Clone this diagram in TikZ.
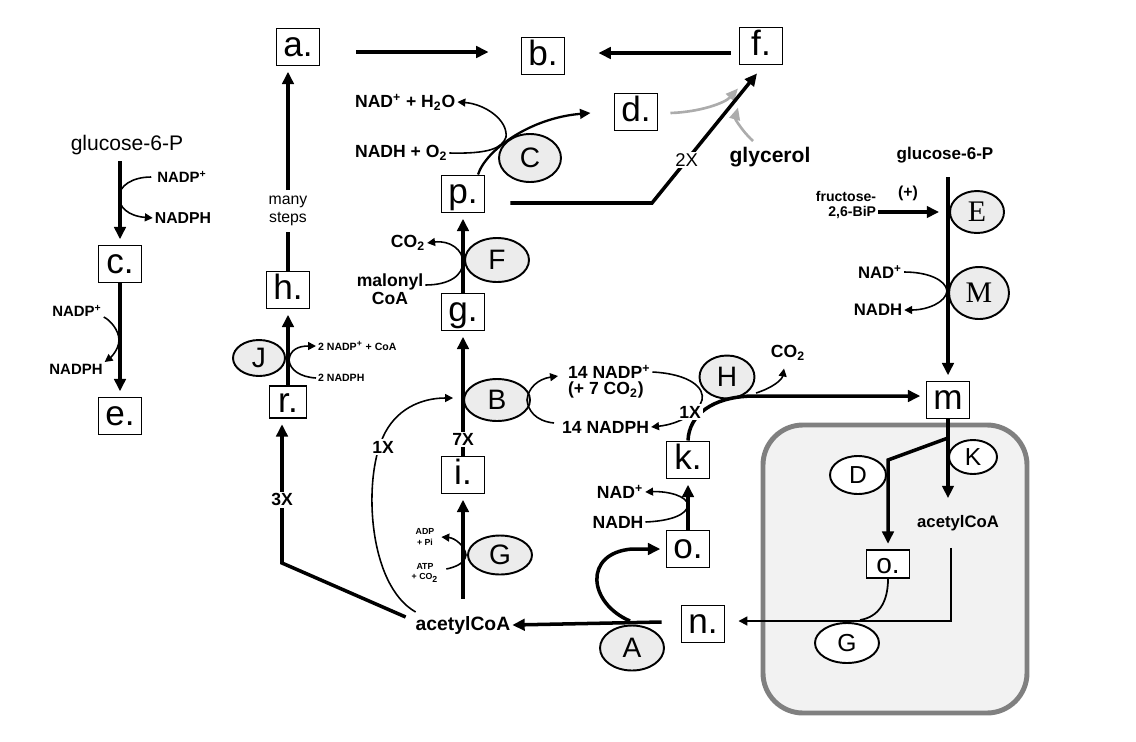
\documentclass[tikz,border=0pt]{standalone}
\usepackage{fontspec}
\setmainfont{Liberation Sans}
\newfontfamily\letterfont{Liberation Serif}
\usetikzlibrary{arrows.meta,shapes.geometric,calc}
\tikzset{
  box/.style={draw, line width=1.1pt, fill=white, inner sep=0pt, text height=14.5pt, text depth=3.6pt,
    minimum width=0.86cm, minimum height=0.74cm, font=\fontsize{20}{20}\selectfont},
  enzyme/.style={ellipse, draw, line width=1.1pt, fill=gray!15, inner sep=0pt,
    font=\fontsize{16}{16}\selectfont},
  lbl/.style={inner sep=1pt, font=\bfseries\fontsize{#1}{#1}\selectfont},
  lbl/.default=9,
  main/.style={line width=2pt, shorten >=3pt, -{Triangle[length=7pt,width=6.5pt]}},
  cofactor/.style={line width=0.9pt, -{Triangle[length=4.5pt,width=4.5pt]}},
  count/.style={fill=white, inner sep=1pt, font=\bfseries\fontsize{10}{10}\selectfont}
}
\begin{document}
\begin{tikzpicture}[x=0.02cm, y=-0.02cm]
\useasboundingbox (0,0) rectangle (1136,741);

%MITOCHONDRION
\draw[line width=2.8pt, draw=gray, fill=gray!10, rounded corners=0.8cm] (763,425) rectangle (1027,713);

%TOP ROW
\node (a) at (298,47) [box] {a.};
\node (b) at (543,56) [box] {b.};
\node (f) at (761,46) [box] {f.};
\node (d) at (636,112) [box] {d.};
\draw[main, shorten >=0pt] ($(a.east)+(36,5)$) -- ($(b.west)+(-32,-4)$);
\draw[main, shorten >=0pt] ($(f.west)+(-8,7)$) -- ($(b.east)+(33,-3)$);
\node (glyc) at (770,157) [lbl=12] {glycerol};
\draw[line width=1.5pt, draw=gray!65, -{Triangle[length=7pt,width=6pt]}] ($(d.east)+(12,1)$) .. controls (700,112) and (725,103) .. ($(f.south)+(-23,23)$);
\draw[line width=1.5pt, draw=gray!65, -{Triangle[length=7pt,width=6pt]}] ($(glyc.north)+(-17,-4)$) .. controls (741,130) and (735,118) .. ($(f.south)+(-23,42)$);

%C AND p
\node (p) at (463,194) [box] {p.};
\node (C) at (530,158) [enzyme, minimum width=1.24cm, minimum height=0.96cm] {C};
\node (nadh2o) at (353,102) [lbl=10, anchor=west] {NAD\textsuperscript{+} + H\textsubscript{2}O};
\node (nado2) at (353,153) [lbl=10, anchor=west] {NADH + O\textsubscript{2}};
\draw[line width=1.3pt, -{Triangle[length=6pt,width=5.5pt]}] ($(p.north)+(15,0)$) .. controls (486,150) and (530,118) .. ($(d.west)+(-23,1)$);
\draw[cofactor] (nado2.east) .. controls (490,154) and (502,148) .. (506,137) .. controls (508,120) and (485,104) .. (nadh2o.east);
\coordinate (bend) at (652,203);
\draw[main, shorten >=0pt] ($(p.east)+(25,9)$) -- (bend) -- node[pos=0.33, fill=white, inner sep=1pt, font=\fontsize{10.5}{10.5}\selectfont] {2X} ($(f.south)+(-4,8)$);

%LEFT COLUMN
\node (glcA) at (127,145) [font=\fontsize{12}{12}\selectfont] {glucose-6-P};
\node (c) at (120,264) [box] {c.};
\node (e) at (120,416) [box] {e.};
\node (nadpA) at (182,177) [lbl=8.5] {NADP\textsuperscript{+}};
\node (nadphA) at (183,218) [lbl=9] {NADPH};
\draw[main] (glcA.south -| c.north) -- (c.north);
\draw[cofactor] ($(nadpA.west)+(-4,0)$) .. controls (132,177) and (119,186) .. (119,197) .. controls (119,207) and (128,216) .. (nadphA.west);
\node (nadpB) at (77,311) [lbl=8.5] {NADP\textsuperscript{+}};
\node (nadphB) at (76,369) [lbl=8.5] {NADPH};
\draw[main] (c.south) -- (e.north);
\draw[cofactor] ($(nadpB.east)+(0,6)$) .. controls (110,320) and (119,330) .. (119,340) .. controls (119,350) and (110,358) .. ($(nadphB.east)+(0,-7)$);

%h AND r
\node (h) at (288,290) [box] {h.};
\node (r) at (288,402) [box, minimum width=0.74cm, minimum height=0.64cm, text height=13pt, text depth=1.5pt] {r.};
\node (steps) at (288,211) [align=center, font=\fontsize{9}{10}\selectfont] {many\\steps};
\draw[main] (steps.north) -- (steps.north |- a.south);
\draw[line width=2pt] (h.north) -- (steps.south);
\node (J) at (259,358) [enzyme, minimum width=1.04cm, minimum height=0.72cm] {J};
\draw[main] (r.north) -- (h.south);
\node (nadpcoa) at (316,346) [lbl=6, anchor=west] {2 NADP\textsuperscript{+} + CoA};
\node (nadphC) at (316,378) [lbl=6, anchor=west] {2 NADPH};
\draw[cofactor] (nadphC.west) .. controls (300,377) and (290,370) .. (289,360) .. controls (290,350) and (298,346) .. (nadpcoa.west);
\node (acoa) at (463,625) [lbl=11] {acetylCoA};
\coordinate (corner3) at (282,563);
\draw[main] ($(acoa.west)+(-8,-8)$) -- (corner3) -- node[count, pos=0.44] {3X} ($(r.south)+(-6,0)$);

%g, p, i COLUMN
\node (g) at (463,312) [box] {g.};
\node (F) at (497,260) [enzyme, minimum width=1.28cm, minimum height=0.88cm] {F};
\draw[main] (g.north) -- (p.south);
\node (co2F) at (408,243) [lbl=10] {CO\textsubscript{2}};
\node (malonyl) at (390,289) [lbl=10, align=center] {malonyl\\CoA};
\draw[cofactor] ($(malonyl.east)+(0,-4)$) .. controls (450,285) and (463,275) .. (463,262) .. controls (463,250) and (450,240) .. (co2F.east);
\node (B) at (497,400) [enzyme, minimum width=1.32cm, minimum height=0.84cm] {B};
\node (i) at (463,475) [box] {i.};
\draw[main] (i.north) -- node[count, pos=0.13] {7X} (g.south);
\draw[cofactor] ($(acoa.west)+(2,-13)$) .. controls (368,585) and (363,480) .. (383,437) .. controls (395,410) and (420,398) .. ($(B.west)+(-10,-2)$);
\node (onex) at (383,447) [count] {1X};
\node (Gout) at (500,555) [enzyme, minimum width=1.28cm, minimum height=0.78cm] {G};
\draw[main, shorten <=0.3cm] (acoa.north) -- (i.south);
\node (adp) at (425,537) [lbl=5, align=center, font=\bfseries\fontsize{5}{6}\selectfont] {ADP\\+ Pi};
\node (atp) at (425,573) [lbl=5, align=center, font=\bfseries\fontsize{5}{6}\selectfont] {ATP\\+ CO\textsubscript{2}};
\draw[cofactor] ($(atp.east)+(6,-4)$) .. controls (456,567) and (465,563) .. (466,555) .. controls (465,546) and (455,538) .. ($(adp.east)+(5,0)$);

%H AND k
\node (nadpD) at (566,372) [lbl=10, anchor=west] {14 NADP\textsuperscript{+}};
\node (co2D) at (566,390) [lbl=10, anchor=west] {(+ 7 CO\textsubscript{2})};
\node (nadphD) at (560,427) [lbl=10, anchor=west] {14 NADPH};
\draw[cofactor] ($(nadphD.west)+(-6,-4)$) .. controls (535,421) and (528,410) .. (527,400) .. controls (528,388) and (538,379) .. ($(nadpD.west)+(-8,4)$);
\node (H) at (727,377) [enzyme, minimum width=1.1cm, minimum height=0.86cm] {H};
\node (k) at (688,460) [box] {k.};
\node (m) at (948,400) [box] {m};
\coordinate (hjoin) at (752,396);
\draw[main] (k.north) .. controls (689,415) and (712,397) .. (hjoin) -- (hjoin -| m.west);
\node (co2H) at (788,353) [lbl=10] {CO\textsubscript{2}};
\draw[cofactor] ($(hjoin)+(4,-3)$) .. controls (772,388) and (782,380) .. ($(co2H.south)+(-4,6)$);
\draw[cofactor] (nadpD.east) .. controls (690,374) and (705,388) .. (702,400) .. controls (699,412) and (680,424) .. (nadphD.east);
\node (onexH) at (690,412) [count] {1X};

%o, n AND A
\node (o1) at (688,549) [box] {o.};
\draw[main] (o1.north) -- (k.south);
\node (nadE) at (620,492) [lbl=10] {NAD\textsuperscript{+}};
\node (nadhE) at (618,522) [lbl=10] {NADH};
\draw[cofactor] (nadhE.east) .. controls (670,521) and (687,515) .. (688,505) .. controls (687,496) and (668,491) .. (nadE.east);
\node (n) at (703,624) [box] {n.};
\node (A) at (632,648) [enzyme, minimum width=1.28cm, minimum height=0.9cm] {A};
\draw[main, shorten >=0pt] ($(n.west)+(-19,-2)$) -- (acoa.east);
\draw[main] (630,621) .. controls (588,603) and (583,553) .. (632,549) -- (o1.west);

%INSIDE
\node (acoaM) at (958,523) [lbl=9.5] {acetylCoA};
\node (K) at (973,457) [enzyme, fill=white, minimum width=0.96cm, minimum height=0.68cm, font=\fontsize{14}{14}\selectfont] {K};
\node (D) at (858,475) [enzyme, fill=white, minimum width=1.12cm, minimum height=0.76cm, font=\fontsize{14}{14}\selectfont] {D};
\node (o2) at (888,564) [box, minimum height=0.56cm, text height=12pt, text depth=1.5pt, font=\fontsize{16}{16}\selectfont] {o.};
\node (Gin) at (847,643) [enzyme, fill=white, minimum width=1.28cm, minimum height=0.8cm, font=\fontsize{14}{14}\selectfont] {G};
\draw[main, shorten >=0.3cm] (m.south) -- (m.south |- acoaM.north);
\coordinate (fork) at (948,438);
\coordinate (dbend) at (888,460);
\draw[main] (fork) -- (dbend) -- (o2.north);
\coordinate (gjoin) at (860,620);
\draw[line width=1pt, -{Triangle[length=5pt,width=5pt]}] ($(acoaM.south)+(-7,15)$) |- ($(n.east)+(13,-3)$);
\draw[line width=1pt] (o2.south) .. controls (888,603) and (878,617) .. (gjoin);

%RIGHT COLUMN
\node (glcB) at (945,155) [lbl=9.7] {glucose-6-P};
\node (E) at (977,212) [enzyme, minimum width=1.08cm, minimum height=0.84cm, font=\letterfont\fontsize{17}{17}\selectfont] {E};
\node (M) at (979,293) [enzyme, minimum width=1.2cm, minimum height=1.04cm, font=\letterfont\fontsize{17}{17}\selectfont] {M};
\draw[main] ($(glcB.south -| m.north)+(0,12)$) -- (m.north);
\node (fruc) at (846,205) [lbl=8, align=right] {fructose-\\2,6-BiP};
\node (plus) at (908,193) [lbl=9] {(+)};
\draw[main, shorten >=0.2cm] (fruc.east |- E.west) -- (E.west);
\node (nadF) at (880,272) [lbl=9.5] {NAD\textsuperscript{+}};
\node (nadhF) at (878,310) [lbl=9.5] {NADH};
\draw[cofactor] (nadF.east) .. controls (928,272) and (946,280) .. (947,291) .. controls (946,302) and (928,310) .. (nadhF.east);
\end{tikzpicture}
\end{document}
